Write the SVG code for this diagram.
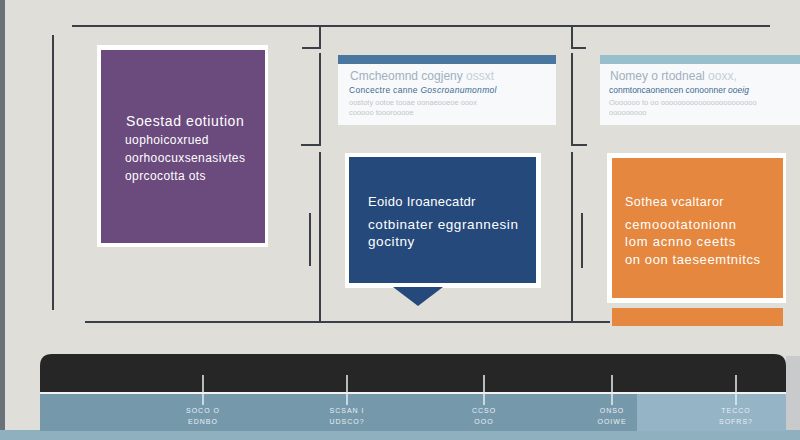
<svg xmlns="http://www.w3.org/2000/svg" width="800" height="440" viewBox="0 0 800 440">
<style>
.ln{stroke:#3b4048;stroke-width:2;fill:none}
.w{fill:#fff;font-family:"Liberation Sans",Arial,sans-serif}
.card{fill:#f8f9fa}
.tl{fill:#e8eef2;font-family:"Liberation Sans",Arial,sans-serif;font-size:7px;text-anchor:middle;letter-spacing:1px}
.tick{stroke:#e8eef2;stroke-width:1.5}
</style>
<rect width="800" height="440" fill="#e0ded9"/>
<rect x="0" y="0" width="5" height="440" fill="#6b7179"/>
<g id="connectors">
<line class="ln" x1="72" y1="26" x2="770" y2="26"/>
<line class="ln" x1="53" y1="35" x2="53" y2="310"/>
<polyline class="ln" points="302,48 320,48 320,26"/>
<polyline class="ln" points="301,145 320,145 320,53"/>
<line class="ln" x1="320" y1="152" x2="320" y2="322"/>
<line class="ln" x1="310" y1="213" x2="310" y2="266"/>
<polyline class="ln" points="586,48 572,48 572,26"/>
<polyline class="ln" points="587,145 572,145 572,53"/>
<line class="ln" x1="572" y1="152" x2="572" y2="322"/>
<line class="ln" x1="582" y1="213" x2="582" y2="268"/>
<line class="ln" x1="85" y1="322" x2="610" y2="322"/>
</g>
<g id="node-purple">
<rect x="97" y="45" width="171" height="202" fill="#fff"/>
<rect x="101" y="50" width="164" height="193" fill="#6b4a7e"/>
<text class="w" x="126" y="126" font-size="14" letter-spacing="0.6">Soestad eotiution</text>
<text class="w" x="125" y="144" font-size="12" letter-spacing="0.4">uophoicoxrued</text>
<text class="w" x="125" y="162" font-size="12" letter-spacing="0.4">oorhoocuxsenasivtes</text>
<text class="w" x="125" y="180" font-size="12" letter-spacing="0.4">oprcocotta ots</text>
</g>
<g id="node-card1">
<rect class="card" x="338" y="55" width="218" height="70"/>
<rect x="338" y="55" width="218" height="9" fill="#4a77a0"/>
<text x="350" y="80" font-family="Liberation Sans,Arial,sans-serif" font-size="12" fill="#9fb0c0">Cmcheomnd cogjeny <tspan fill="#c5cfd8">ossxt</tspan></text>
<text x="349" y="93" font-family="Liberation Sans,Arial,sans-serif" font-size="8.5" fill="#3e6a96" letter-spacing="0.3">Concectre canne <tspan font-style="italic">Goscroanumonmol</tspan></text>
<text x="349" y="105" font-family="Liberation Sans,Arial,sans-serif" font-size="7.5" fill="#c2c6ca">oostoty ootoe tooae oonaeooeoe ooox</text>
<text x="349" y="115" font-family="Liberation Sans,Arial,sans-serif" font-size="7.5" fill="#c2c6ca">cooooo tooorooooe</text>
</g>
<g id="node-card2">
<rect class="card" x="600" y="55" width="200" height="70"/>
<rect x="600" y="55" width="200" height="9" fill="#97c0cc"/>
<text x="610" y="80" font-family="Liberation Sans,Arial,sans-serif" font-size="12" fill="#9fb0c0">Nomey o rtodneal <tspan fill="#c5cfd8">ooxx,</tspan></text>
<text x="609" y="93" font-family="Liberation Sans,Arial,sans-serif" font-size="8.5" fill="#3e6a96">conmtoncaonencen conoonner <tspan font-style="italic">ooeig</tspan></text>
<text x="609" y="105" font-family="Liberation Sans,Arial,sans-serif" font-size="7.5" fill="#c2c6ca">Ooooooo to oo ooooooooooooooooooooooo</text>
<text x="609" y="115" font-family="Liberation Sans,Arial,sans-serif" font-size="7.5" fill="#c2c6ca">ooooooooo</text>
</g>
<g id="node-blue">
<rect x="345" y="153" width="196" height="135" fill="#fff"/>
<rect x="349" y="157" width="187" height="126" fill="#24497a"/>
<polygon points="393,287 443,287 418,306" fill="#24497a"/>
<text class="w" x="368" y="206" font-size="13" letter-spacing="0.3">Eoido Iroanecatdr</text>
<text class="w" x="368" y="229" font-size="13.5" letter-spacing="0.6">cotbinater eggrannesin</text>
<text class="w" x="368" y="246" font-size="13.5" letter-spacing="0.6">gocitny</text>
</g>
<g id="node-orange">
<rect x="607" y="153" width="179" height="150" fill="#fff"/>
<rect x="612" y="158" width="171" height="140" fill="#e5873e"/>
<rect x="612" y="308" width="171" height="18" fill="#e5873e"/>
<text class="w" x="625" y="206" font-size="12.5" letter-spacing="0.5">Sothea vcaltaror</text>
<text class="w" x="625" y="229" font-size="13" letter-spacing="0.8">cemoootatonionn</text>
<text class="w" x="625" y="246" font-size="13" letter-spacing="0.8">lom acnno ceetts</text>
<text class="w" x="625" y="264" font-size="13" letter-spacing="0.6">on oon taeseemtnitcs</text>
</g>
<g id="timeline">
<rect x="786" y="356" width="14" height="76" fill="#c9cacb"/>
<rect x="0" y="430" width="800" height="10" fill="#8fb1bf"/>
<path d="M40,392 V366 Q40,354 52,354 H774 Q786,354 786,366 V392 Z" fill="#262626"/>
<rect x="40" y="392" width="746" height="2" fill="#f2f2f2"/>
<rect x="40" y="394" width="597" height="37" fill="#7598ab"/>
<rect x="637" y="394" width="149" height="37" fill="#95b4c6"/>
<line class="tick" x1="203" y1="375" x2="203" y2="405"/>
<line class="tick" x1="347" y1="375" x2="347" y2="405"/>
<line class="tick" x1="484" y1="375" x2="484" y2="405"/>
<line class="tick" x1="612" y1="375" x2="612" y2="405"/>
<line class="tick" x1="736" y1="375" x2="736" y2="405"/>
<text class="tl" x="203" y="413">SOCO O</text>
<text class="tl" x="203" y="424">EDNBO</text>
<text class="tl" x="347" y="413">SCSAN I</text>
<text class="tl" x="347" y="424">UDSCO?</text>
<text class="tl" x="484" y="413">CCSO</text>
<text class="tl" x="484" y="424">OOO</text>
<text class="tl" x="612" y="413">ONSO</text>
<text class="tl" x="612" y="424">OOIWE</text>
<text class="tl" x="736" y="413">TECCO</text>
<text class="tl" x="736" y="424">SOFRS?</text>
</g>
</svg>
